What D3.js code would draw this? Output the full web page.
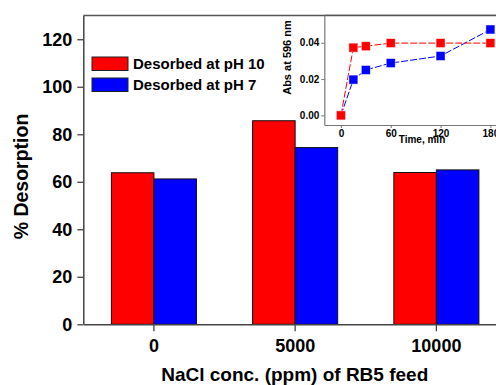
<!DOCTYPE html>
<html>
<head>
<meta charset="utf-8">
<script src="https://cdn.jsdelivr.net/npm/d3@7"></script>
<style>
  body { margin: 0; background: #fff; }
  svg { display: block; font-family: "Liberation Sans", Arial, sans-serif; font-weight: bold; }
</style>
</head>
<body>
<div id="chart"></div>
<script>
// bar data
var categories = ["0", "5000", "10000"];
var seriesNames = ["Desorbed at pH 10", "Desorbed at pH 7"];
var pH10 = [63.8, 85.7, 63.9];
var pH7 = [61.2, 74.4, 65.0];
var yTicks = [0, 20, 40, 60, 80, 100, 120];

// inset data
var times = [0, 15, 30, 60, 120, 180];
var absPH10 = [0.0, 0.0373, 0.0381, 0.0398, 0.0398, 0.0398];
var absPH7 = [0.0, 0.0197, 0.0250, 0.0288, 0.0327, 0.0473];
var insetXTicks = [0, 60, 120, 180];
var insetYTicks = [0, 0.02, 0.04];

var colors = ["#ff0000", "#0000ff"];

var width = 496, height = 385;
// note: "top" is taken by window.top, so use other names
var plotLeft = 83.3, plotTop = 15.5, plotBottom = 324.3, plotRight = 507;

var svg = d3.select('#chart').append('svg')
  .attr('width', width)
  .attr('height', height);

var x0 = d3.scaleBand().domain(categories).range([plotLeft, plotRight]).padding(0);
var x1 = d3.scaleBand().domain(seriesNames).range([0, x0.bandwidth()]).paddingInner(0).paddingOuter(0.66);
var y = d3.scaleLinear().domain([0, 130]).range([plotBottom, plotTop]);

var color = d3.scaleOrdinal().domain(seriesNames).range(colors);

var rows = categories.map(function(c, i) {
  return { cat: c, vals: [
    { name: seriesNames[0], v: pH10[i] },
    { name: seriesNames[1], v: pH7[i] }
  ]};
});

// bars
var groups = svg.selectAll('g.group')
  .data(rows).enter().append('g')
  .attr('class', 'group')
  .attr('transform', function(d) { return 'translate(' + x0(d.cat) + ',0)'; });

groups.selectAll('rect')
  .data(function(d) { return d.vals; })
  .enter().append('rect')
  .attr('x', function(d) { return x1(d.name); })
  .attr('y', function(d) { return y(d.v); })
  .attr('width', x1.bandwidth())
  .attr('height', function(d) { return y(0) - y(d.v); })
  .attr('fill', function(d) { return color(d.name); })
  .attr('stroke', '#111')
  .attr('stroke-width', 1);

// top frame line
svg.append('line')
  .attr('x1', plotLeft).attr('x2', width)
  .attr('y1', plotTop).attr('y2', plotTop)
  .attr('stroke', '#555').attr('stroke-width', 1.3);

// y axis
var yAxis = svg.append('g')
  .attr('transform', 'translate(' + plotLeft + ',0)')
  .call(d3.axisLeft(y).tickValues(yTicks).tickSize(6).tickSizeOuter(0).tickPadding(5));
yAxis.selectAll('text').style('font-size', '18px').attr('fill', '#000');

// x axis
var xAxis = svg.append('g')
  .attr('transform', 'translate(0,' + plotBottom + ')')
  .call(d3.axisBottom(x0).tickSize(7).tickSizeOuter(0).tickPadding(8));
xAxis.selectAll('text').style('font-size', '18px').attr('fill', '#000');

[yAxis, xAxis].forEach(function(a) {
  a.select('.domain').attr('stroke', '#444').attr('stroke-width', 1.5);
  a.selectAll('.tick line').attr('stroke', '#444').attr('stroke-width', 1.3);
});

// axis titles
svg.append('text')
  .attr('transform', 'translate(28,176.5) rotate(-90)')
  .attr('text-anchor', 'middle')
  .style('font-size', '19.5px')
  .text('% Desorption');

svg.append('text')
  .attr('x', 294.7).attr('y', 381)
  .attr('text-anchor', 'middle')
  .style('font-size', '19px')
  .text('NaCl conc. (ppm) of RB5 feed');

// legend
var legend = svg.selectAll('g.legend')
  .data(seriesNames).enter().append('g')
  .attr('class', 'legend')
  .attr('transform', function(d, i) { return 'translate(92,' + (57 + i * 21) + ')'; });

legend.append('rect')
  .attr('width', 36).attr('height', 13.5)
  .attr('fill', function(d) { return color(d); })
  .attr('stroke', '#222').attr('stroke-width', 1);

legend.append('text')
  .attr('x', 41).attr('y', 11.5)
  .style('font-size', '15px')
  .text(function(d) { return d; });

// inset
var ix = d3.scaleLinear().domain([-20, 200]).range([324.3, 507]);
var iy = d3.scaleLinear().domain([-0.0053, 0.055]).range([125, 15.5]);

var inset = svg.append('g');

inset.append('rect')
  .attr('x', ix(-20)).attr('y', iy(0.055))
  .attr('width', ix(200) - ix(-20)).attr('height', iy(-0.0053) - iy(0.055))
  .attr('fill', '#fff');

inset.append('line')
  .attr('x1', ix(-20)).attr('x2', width)
  .attr('y1', plotTop).attr('y2', plotTop)
  .attr('stroke', '#555').attr('stroke-width', 1.3);

var iyAxis = inset.append('g')
  .attr('transform', 'translate(' + ix(-20) + ',0)')
  .call(d3.axisLeft(iy).tickValues(insetYTicks).tickFormat(d3.format('.2f')).tickSize(3).tickSizeOuter(0).tickPadding(2));
var ixAxis = inset.append('g')
  .attr('transform', 'translate(0,' + iy(-0.0053) + ')')
  .call(d3.axisBottom(ix).tickValues(insetXTicks).tickSize(3).tickSizeOuter(0).tickPadding(2));

[iyAxis, ixAxis].forEach(function(a) {
  a.select('.domain').attr('stroke', '#777').attr('stroke-width', 1.2);
  a.selectAll('.tick line').attr('stroke', '#777');
  a.selectAll('text').style('font-size', '10px').attr('fill', '#000');
});

inset.append('text')
  .attr('transform', 'translate(290.5,57.5) rotate(-90)')
  .attr('text-anchor', 'middle')
  .style('font-size', '11px')
  .text('Abs at 596 nm');

inset.append('text')
  .attr('x', 422).attr('y', 143)
  .attr('text-anchor', 'middle')
  .style('font-size', '10px')
  .text('Time, min');

var line = d3.line()
  .x(function(d) { return ix(d.t); })
  .y(function(d) { return iy(d.a); });

var kinetics = [
  { name: seriesNames[1], pts: times.map(function(t, i) { return { t: t, a: absPH7[i] }; }) },
  { name: seriesNames[0], pts: times.map(function(t, i) { return { t: t, a: absPH10[i] }; }) }
];

kinetics.forEach(function(s) {
  inset.append('path')
    .datum(s.pts)
    .attr('d', line)
    .attr('fill', 'none')
    .attr('stroke', color(s.name))
    .attr('stroke-width', 1)
    .attr('stroke-dasharray', '7,2');
});

kinetics.forEach(function(s) {
  inset.selectAll(null)
    .data(s.pts).enter().append('rect')
    .attr('x', function(d) { return ix(d.t) - 4.5; })
    .attr('y', function(d) { return iy(d.a) - 4.5; })
    .attr('width', 9).attr('height', 9)
    .attr('fill', color(s.name))
    .attr('stroke', '#fff')
    .attr('stroke-opacity', 0.6)
    .attr('stroke-width', 0.8);
});
</script>
</body>
</html>
